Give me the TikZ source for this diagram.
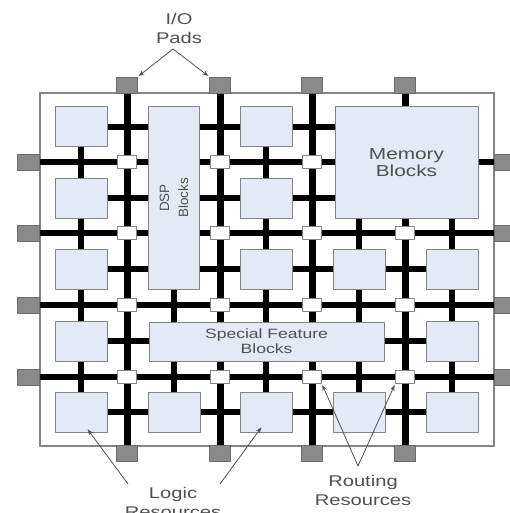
\documentclass[tikz,border=0pt]{standalone}
\usepackage{fontspec}
\setmainfont{Liberation Sans}[FakeStretch=1.3]
\newfontfamily\dspfont{Liberation Sans}
\usetikzlibrary{arrows.meta,calc,backgrounds}

\definecolor{blockfill}{HTML}{E4EAF5}
\definecolor{blockline}{HTML}{858585}
\definecolor{padfill}{HTML}{8A8A8A}
\definecolor{padline}{HTML}{6A6A6A}
\definecolor{textgray}{HTML}{505050}

\begin{document}
\begin{tikzpicture}[
    x=1pt, y=-1pt,
    >=Stealth,
    line join=round,
    logic/.style={
        draw=blockline,
        fill=blockfill,
        line width=1pt,
        minimum width=52pt,
        minimum height=40pt,
        inner sep=0pt,
        align=center,
        text=textgray
    },
    switchbox/.style={draw=blockline, fill=white, line width=0.9pt, minimum width=19pt, minimum height=13pt, inner sep=0pt},
    pad/.style={draw=padline, fill=padfill, line width=0.8pt, minimum width=21pt, minimum height=16pt, inner sep=0pt},
    track/.style={line width=7pt},
    link/.style={line width=6pt},
    frame/.style={draw=blockline, line width=1.2pt},
    note/.style={font=\fontsize{15.5}{19}\selectfont, align=center, text=textgray},
    callout/.style={-{Stealth[length=6pt,width=4.5pt]}, draw=textgray, line width=0.8pt, shorten >=1pt}
]
\useasboundingbox (0,0) rectangle (510,513);

% =========================
% Logic blocks
% =========================
\foreach \name/\x/\y in {11/81/127, 13/266/127, 21/81/198, 23/266/198,
    31/81/269, 33/266/269, 34/359/269, 35/452/269, 41/81/341, 45/452/341,
    51/81/412, 52/174/412, 53/266/412, 54/359/412, 55/452/412}
    \node[logic] (lb\name) at (\x,\y) {};

% =========================
% Special blocks
% =========================
\node[logic, rotate=90, minimum width=182pt, minimum height=51pt,
      font=\dspfont\fontsize{13.5}{19}\selectfont] (dsp) at (174,198) {DSP\\Blocks};
\node[logic, minimum width=143pt, minimum height=111pt,
      font=\fontsize{16}{17.5}\selectfont] (mem) at (406.5,162.5) {Memory\\Blocks};
\node[logic, minimum width=235pt, minimum height=39pt,
      font=\fontsize{13.5}{15}\selectfont] (sfb) at (266.5,341.5) {Special Feature\\Blocks};

% =========================
% Switch boxes
% =========================
\foreach \c/\x in {1/127,2/220,3/312,4/405}
    \foreach \r/\y in {1/162,2/233,3/305,4/377}
        {\ifnum\r\c=14 \else \node[switchbox] (sw\r\c) at (\x,\y) {}; \fi}

% =========================
% I/O pads
% =========================
\foreach \k/\x in {1/127,2/220,3/312,4/405} {
    \node[pad] (pt\k) at (\x,85) {};
    \node[pad] (pb\k) at (\x,453.5) {};
}
\foreach \k/\y in {1/162,2/233,3/305,4/377} {
    \node[pad, minimum width=22pt] (pl\k) at (28,\y) {};
    \node[pad, minimum width=16pt] (pr\k) at (502,\y) {};
}

% =========================
% Routing under the blocks
% =========================
\begin{pgfonlayer}{background}
\draw[frame] (40,93) rectangle (494,446);
\foreach \k in {1,...,4} {
    \draw[track] (pt\k) -- (pb\k);
    \draw[track, line width=6pt] (pl\k) -- (pr\k);
}
\draw[link] (lb11.center) -- (lb11.center -| mem.west);
\draw[link] (lb21.center) -- (lb21.center -| mem.west);
\draw[link] (lb31.center) -- (lb35.center);
\draw[link] (lb41.center) -- (lb45.center);
\draw[link] (lb51.center) -- (lb55.center);
\draw[link] (lb11.center) -- (lb51.center);
\draw[link] (dsp.center) -- (lb52.center);
\draw[link] (lb13.center) -- (lb53.center);
\draw[link] (mem.center -| lb54) -- (lb54.center);
\draw[link] (mem.center -| lb55) -- (lb55.center);
\end{pgfonlayer}

% =========================
% Notes
% =========================
\node[note] (iolbl) at (179,28) {I/O\\Pads};
\coordinate (ioapex) at (173,49);
\draw[callout] (ioapex) -- (pt1.north east);
\draw[callout] (ioapex) -- (pt2.north west);

\node[note] (logiclbl) at (173,502) {Logic\\Resources};
\coordinate (logicL) at (128,484);
\coordinate (logicR) at (220,484);
\draw[callout] (logicL) -- ($(lb51.south)+(6,-4)$);
\draw[callout] (logicR) -- ($(lb53.south)+(-4,-6)$);

\node[note] (routelbl) at (363,490) {Routing\\Resources};
\coordinate (routeapex) at (358,466);
\draw[callout] (routeapex) -- (sw43.south east);
\draw[callout] (routeapex) -- (sw44.south west);

\end{tikzpicture}
\end{document}
